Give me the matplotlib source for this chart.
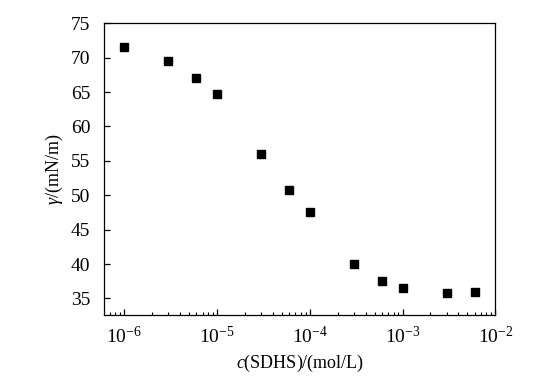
import matplotlib
matplotlib.use("Agg")
import matplotlib.pyplot as plt
from matplotlib.ticker import LogLocator, LogFormatterMathtext, NullFormatter

plt.rcParams['font.family'] = ['Liberation Serif', 'DejaVu Serif']
plt.rcParams['mathtext.fontset'] = 'custom'
plt.rcParams['mathtext.rm'] = 'Liberation Serif'
plt.rcParams['mathtext.it'] = 'Liberation Serif:italic'
plt.rcParams['mathtext.bf'] = 'Liberation Serif:bold'

conc = [1e-6, 3e-6, 6e-6, 1e-5, 3e-5, 6e-5, 1e-4, 3e-4, 6e-4, 1e-3, 3e-3, 6e-3]
gamma = [71.6, 69.5, 67.0, 64.7, 56.0, 50.7, 47.5, 40.0, 37.6, 36.5, 35.8, 35.9]
yticks = [35, 40, 45, 50, 55, 60, 65, 70, 75]

fig = plt.figure(figsize=(5.53, 3.78), dpi=100)
ax = fig.add_axes([0.1886, 0.1667, 0.7071, 0.7717])
ax.plot(conc, gamma, linestyle='none', marker='s', color='black', markersize=5.2)

ax.set_xscale('log')
ax.set_xlim(6.1e-7, 1e-2)
ax.set_ylim(32.6, 75)
ax.set_yticks(yticks)
ax.xaxis.set_major_locator(LogLocator(base=10, numticks=20))
ax.xaxis.set_minor_locator(LogLocator(base=10, subs=range(2, 10), numticks=20))
ax.xaxis.set_major_formatter(LogFormatterMathtext())
ax.xaxis.set_minor_formatter(NullFormatter())

for s in ax.spines.values():
    s.set_linewidth(0.9)
ax.tick_params(axis='both', which='major', direction='in', length=4.5, width=0.9,
               labelsize=14)
ax.tick_params(axis='y', which='major', pad=10)
ax.tick_params(axis='x', which='major', pad=8)
ax.tick_params(axis='x', which='minor', direction='in', length=2.5, width=0.8)
ax.tick_params(top=False, right=False, which='both')

ax.set_xlabel(r'$c$(SDHS)/(mol/L)', fontsize=13, labelpad=4)
ax.set_ylabel(r'$\gamma$/(mN/m)', fontsize=13, labelpad=4)

fig.savefig('out.png', dpi=100)
